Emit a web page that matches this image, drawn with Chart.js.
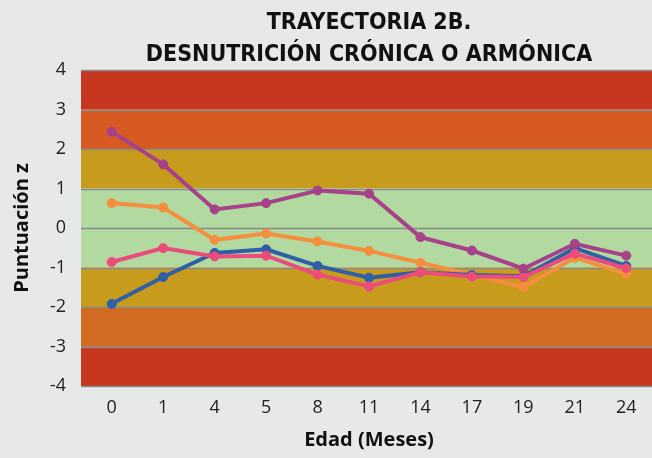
<!DOCTYPE html>
<html>
<head>
<meta charset="utf-8">
<script src="https://cdn.jsdelivr.net/npm/chart.js@4"></script>
<style>
  body { margin: 0; background: #e6e9e8; }
  #wrap { width: 652px; height: 458px; }
</style>
</head>
<body>
<div id="wrap"><canvas id="grafico" width="652" height="458"></canvas></div>
<script>
// Datos
const edades = ['0', '1', '4', '5', '8', '11', '14', '17', '19', '21', '24'];
const serieMorada = [2.44, 1.61, 0.47, 0.63, 0.95, 0.87, -0.23, -0.57, -1.03, -0.40, -0.70];
const serieNaranja = [0.63, 0.52, -0.30, -0.14, -0.34, -0.58, -0.88, -1.18, -1.50, -0.75, -1.16];
const serieAzul = [-1.92, -1.24, -0.63, -0.54, -0.96, -1.26, -1.12, -1.19, -1.22, -0.51, -0.96];
const serieRosa = [-0.86, -0.51, -0.72, -0.70, -1.18, -1.48, -1.12, -1.23, -1.24, -0.65, -1.02];

// Franjas de fondo (desde, hasta)
const franjas = [[3, 4], [2, 3], [1, 2], [-1, 1], [-2, -1], [-3, -2], [-4, -3]];
const coloresFranja = ['#c7361f', '#d75a23', '#c79b1b', '#b1d9a0', '#c79b1b', '#d26a22', '#c7361f'];
const titulo = ['TRAYECTORIA 2B.', 'DESNUTRICIÓN CRÓNICA O ARMÓNICA'];

window.addEventListener('DOMContentLoaded', function () {

    // Fondo de franjas, líneas horizontales y título
    const fondoPlugin = {
        id: 'fondo',
        beforeDraw(chart) {
            const ctx = chart.ctx;
            const area = chart.chartArea;
            const y = chart.scales.y;
            const x0 = area.left - 5;
            ctx.save();
            ctx.fillStyle = '#e6e9e8';
            ctx.fillRect(0, 0, chart.width, chart.height);
            franjas.forEach(function (f, i) {
                const top = y.getPixelForValue(f[1]);
                const bottom = y.getPixelForValue(f[0]);
                ctx.fillStyle = coloresFranja[i];
                ctx.fillRect(x0, top, chart.width - x0, bottom - top);
            });
            ctx.strokeStyle = '#8a8a8a';
            ctx.lineWidth = 1.5;
            for (let v = -4; v <= 4; v++) {
                const py = Math.round(y.getPixelForValue(v)) + 0.5;
                ctx.beginPath();
                ctx.moveTo(x0, py);
                ctx.lineTo(chart.width, py);
                ctx.stroke();
            }
            ctx.fillStyle = '#111';
            ctx.font = 'bold 23px "DejaVu Sans Condensed", "DejaVu Sans"';
            ctx.textAlign = 'center';
            ctx.textBaseline = 'alphabetic';
            const cx = (area.left + chart.width) / 2;
            ctx.fillText(titulo[0], cx, 29);
            ctx.fillText(titulo[1], cx, 61);
            ctx.restore();
        }
    };

    function serie(datos, color) {
        return {
            data: datos,
            borderColor: color,
            backgroundColor: color,
            borderWidth: 4,
            pointRadius: 4.5,
            pointBorderWidth: 1,
            tension: 0
        };
    }

    new Chart(document.getElementById('grafico').getContext('2d'), {
        type: 'line',
        data: {
            labels: edades,
            datasets: [
                serie(serieMorada, '#a6418a'),
                serie(serieRosa, '#ec4c7c'),
                serie(serieAzul, '#2f5fa6'),
                serie(serieNaranja, '#f58f3e')
            ]
        },
        options: {
            responsive: false,
            animation: false,
            layout: { autoPadding: false, padding: { top: 70, right: 0, left: 0, bottom: 0 } },
            plugins: { legend: { display: false }, tooltip: { enabled: false }, title: { display: false } },
            scales: {
                x: {
                    offset: true,
                    grid: { display: false, drawTicks: false },
                    border: { display: false },
                    ticks: { color: '#222', padding: 11, font: { family: 'Open Sans', size: 18 } },
                    title: { display: true, text: 'Edad (Meses)', color: '#111', padding: { top: 0, bottom: 6 },
                             font: { family: 'Open Sans', size: 20, weight: 'bold' } },
                    afterFit(scale) {
                        scale.height = 72;
                        scale.paddingLeft = 0;
                        scale.paddingRight = 0;
                    }
                },
                y: {
                    min: -4,
                    max: 4,
                    grid: { display: false, drawTicks: false },
                    border: { display: false },
                    ticks: { stepSize: 1, color: '#222', padding: 20, font: { family: 'Open Sans', size: 18 } },
                    title: { display: true, text: 'Puntuación z', color: '#111', padding: { top: 10, bottom: 0 },
                             font: { family: 'Open Sans', size: 20, weight: 'bold' } },
                    afterFit(scale) {
                        scale.width = 86;
                        scale.paddingTop = 0;
                        scale.paddingBottom = 0;
                    }
                }
            }
        },
        plugins: [fondoPlugin]
    });
});
</script>
</body>
</html>
